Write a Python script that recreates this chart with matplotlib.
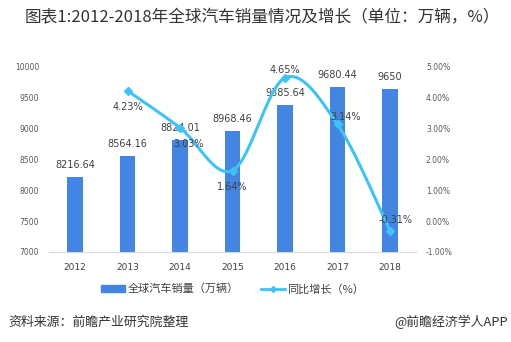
import numpy as np
import matplotlib
matplotlib.use("Agg")
import matplotlib.pyplot as plt

plt.rcParams['font.family'] = ['Noto Sans CJK SC', 'DejaVu Sans']

years = ['2012', '2013', '2014', '2015', '2016', '2017', '2018']
sales = [8216.64, 8564.16, 8824.01, 8968.46, 9385.64, 9680.44, 9650]
growth_years = ['2013', '2014', '2015', '2016', '2017', '2018']
growth = [4.23, 3.03, 1.64, 4.65, 3.14, -0.31]
left_ticks = [7000, 7500, 8000, 8500, 9000, 9500, 10000]
right_ticks = [-1, 0, 1, 2, 3, 4, 5]

bar_color = '#4285E2'
line_color = '#3EC3F7'
txt = '#404040'

fig = plt.figure(figsize=(5.11, 3.42), dpi=100)
ax = fig.add_axes([0.0954, 0.2632, 0.7192, 0.5409])
x = np.arange(len(years))
ax.bar(x, sales, width=0.3, color=bar_color, zorder=2)
ax.set_ylim(7000, 10000)
ax.set_xlim(-0.5, len(years) - 0.5)
ax.set_yticks(left_ticks)
ax.set_yticklabels([str(v) for v in left_ticks], fontsize=5.5, color='#595959', family='DejaVu Sans')
ax.set_xticks(x)
ax.set_xticklabels(years, fontsize=6.5, color='#404040', family='DejaVu Sans')
ax.tick_params(length=0, pad=8)
ax.tick_params(axis='y', pad=7)
for s in ['top', 'right', 'left']:
    ax.spines[s].set_visible(False)
ax.spines['bottom'].set_color('#d9d9d9')
for xi, v in zip(x, sales):
    ax.annotate(f'{v:g}' if v == int(v) else f'{v:.2f}', (xi, v), xytext=(0, 5), textcoords='offset points',
                ha='center', va='bottom', fontsize=7, color=txt, family='DejaVu Sans')

ax2 = ax.twinx()
ax2.set_ylim(-1, 5)
ax2.set_yticks(right_ticks)
ax2.set_yticklabels([f'{v:.2f}%' for v in right_ticks], fontsize=5.5, color='#595959', family='DejaVu Sans')
ax2.tick_params(length=0, pad=7)
for s in ['top', 'right', 'left', 'bottom']:
    ax2.spines[s].set_visible(False)

gx = np.array([years.index(y) for y in growth_years], dtype=float)
gy = np.array(growth, dtype=float)

# Catmull-Rom smoothing (Excel-like smoothed line)
def catmull(px, py, n=30):
    P = np.column_stack([px, py])
    P = np.vstack([P[0], P, P[-1]])
    out = []
    for i in range(1, len(P) - 2):
        p0, p1, p2, p3 = P[i - 1], P[i], P[i + 1], P[i + 2]
        c1 = p1 + (p2 - p0) / 6
        c2 = p2 - (p3 - p1) / 6
        t = np.linspace(0, 1, n)[:, None]
        seg = (1 - t) ** 3 * p1 + 3 * (1 - t) ** 2 * t * c1 + 3 * (1 - t) * t ** 2 * c2 + t ** 3 * p2
        out.append(seg)
    return np.vstack(out)

curve = catmull(gx, gy)
ax2.plot(curve[:, 0], curve[:, 1], color=line_color, lw=2.2, zorder=3, solid_capstyle='round')
ax2.plot(gx, gy, ls='none', marker='D', ms=4, color=line_color, zorder=4)

offsets = [(0, -8, 'top'), (6, -8, 'top'), (0, -8, 'top'), (0, 2, 'bottom'), (6, 2, 'bottom'), (4, 4, 'bottom')]
for xi, v, (dx, dy, va) in zip(gx, gy, offsets):
    ax2.annotate(f'{v:.2f}%', (xi, v), xytext=(dx, dy), textcoords='offset points',
                 ha='center', va=va, fontsize=7, color=txt, family='DejaVu Sans', zorder=5)

fig.text(0.049, 0.947, '图表1:2012-2018年全球汽车销量情况及增长（单位：万辆，%）',
         fontsize=12, color='#333333', va='center', ha='left')

from matplotlib.patches import Patch
from matplotlib.lines import Line2D
handles = [Patch(color=bar_color), Line2D([0], [0], color=line_color, lw=2, marker='D', ms=3)]
fig.legend(handles, ['全球汽车销量（万辆）', '同比增长（%）'], loc='center', bbox_to_anchor=(0.455, 0.155),
           ncol=2, frameon=False, fontsize=8, handlelength=2.2, handleheight=0.6, columnspacing=2.0,
           handletextpad=0.2, labelcolor='#404040')

fig.text(0.016, 0.058, '资料来源：前瞻产业研究院整理', fontsize=9.3, style='italic', color='#333333', va='center', ha='left')
fig.text(0.994, 0.058, '@前瞻经济学人APP', fontsize=9.3, color='#333333', va='center', ha='right')

fig.savefig('out.png', dpi=100)
